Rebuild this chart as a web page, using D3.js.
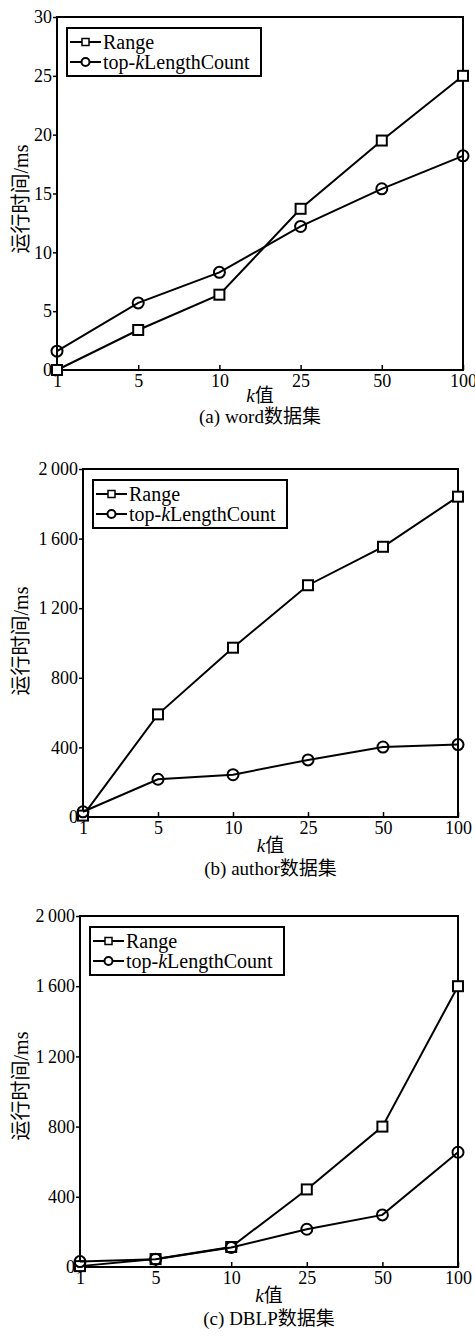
<!DOCTYPE html>
<html>
<head>
<meta charset="utf-8">
<script src="https://cdnjs.cloudflare.com/ajax/libs/d3/7.8.5/d3.min.js"></script>
<style>
  body { margin: 0; background: #fff; }
  svg { display: block; }
  text { font-family: "Liberation Serif", "Times New Roman", "Noto Sans CJK SC", serif; fill: #000; }
</style>
</head>
<body>
<div id="chart"></div>
<script>
// k values on the x axis
var kLabels = ["1", "5", "10", "25", "50", "100"];

// (a) word
var wordRange = [0, 3.4, 6.4, 13.7, 19.5, 25.0];
var wordTopk  = [1.6, 5.7, 8.3, 12.2, 15.4, 18.2];
var wordTicks = [0, 5, 10, 15, 20, 25, 30];

// (b) author
var authorRange = [8, 590, 973, 1332, 1553, 1841];
var authorTopk  = [30, 217, 243, 328, 402, 416];

// (c) DBLP
var dblpRange = [5, 45, 114, 442, 800, 1600];
var dblpTopk  = [31, 44, 111, 215, 297, 654];

var bigTicks = [0, 400, 800, 1200, 1600, 2000];
var seriesNames = ["Range", "top-"];
var yTitle = "运行时间/ms";

var width = 475, height = 1338;

var svg = d3.select("#chart").append("svg")
    .attr("width", width)
    .attr("height", height);

var fmtBig = function(d) {
  var s = String(d);
  return s.length > 3 ? s.slice(0, s.length - 3) + "\u2009" + s.slice(s.length - 3) : s;
};

var panels = [
  { range: wordRange, topk: wordTopk, ticks: wordTicks, max: 30, fmt: String,
    left: 57, right: 463, top: 17, bottom: 370, labY: 199, kY: 396, capY: 416,
    caption: "(a) word数据集" },
  { range: authorRange, topk: authorTopk, ticks: bigTicks, max: 2000, fmt: fmtBig,
    left: 83, right: 458, top: 469, bottom: 817, labY: 641, kY: 846, capY: 868,
    caption: "(b) author数据集" },
  { range: dblpRange, topk: dblpTopk, ticks: bigTicks, max: 2000, fmt: fmtBig,
    left: 80, right: 458, top: 916, bottom: 1267, labY: 1086, kY: 1296, capY: 1318,
    caption: "(c) DBLP数据集" }
];

panels.forEach(function(p) {
  var x = d3.scalePoint().domain(kLabels).range([p.left, p.right]);
  var y = d3.scaleLinear().domain([0, p.max]).range([p.bottom, p.top]);
  var g = svg.append("g");

  // y axis, outward ticks
  var yAxis = g.append("g")
      .attr("transform", "translate(" + p.left + ",0)")
      .call(d3.axisLeft(y).tickValues(p.ticks).tickFormat(p.fmt).tickSize(4).tickPadding(1));
  yAxis.select(".domain").remove();
  yAxis.selectAll("line").attr("stroke", "#000").attr("stroke-width", 1.5);
  yAxis.selectAll("text").attr("font-size", 18).attr("font-family", null);

  // x axis, inward ticks
  var xAxis = g.append("g")
      .attr("transform", "translate(0," + p.bottom + ")")
      .call(d3.axisBottom(x).tickSize(-5).tickPadding(3));
  xAxis.select(".domain").remove();
  xAxis.selectAll("line").attr("stroke", "#000").attr("stroke-width", 1.5);
  xAxis.selectAll("text").attr("font-size", 18).attr("font-family", null)
      .attr("dy", "0.75em");

  // frame
  g.append("rect")
      .attr("x", p.left).attr("y", p.top)
      .attr("width", p.right - p.left).attr("height", p.bottom - p.top)
      .attr("fill", "none").attr("stroke", "#000").attr("stroke-width", 2);

  var line = d3.line()
      .x(function(d, i) { return x(kLabels[i]); })
      .y(function(d) { return y(d); });

  [p.range, p.topk].forEach(function(vals, si) {
    g.append("path").datum(vals)
        .attr("d", line)
        .attr("fill", "none").attr("stroke", "#000").attr("stroke-width", 2);
    if (si == 0) {
      g.selectAll(".sq").data(vals).enter().append("rect")
          .attr("x", function(d, i) { return x(kLabels[i]) - 5; })
          .attr("y", function(d) { return y(d) - 5; })
          .attr("width", 10).attr("height", 10)
          .attr("fill", "#fff").attr("stroke", "#000").attr("stroke-width", 2);
    } else {
      g.selectAll(".ci").data(vals).enter().append("circle")
          .attr("cx", function(d, i) { return x(kLabels[i]); })
          .attr("cy", function(d) { return y(d); })
          .attr("r", 5.5)
          .attr("fill", "none").attr("stroke", "#000").attr("stroke-width", 2);
    }
  });

  // legend
  var lx = p.left + 10, ly = p.top + 11;
  var leg = g.append("g").attr("transform", "translate(" + lx + "," + ly + ")");
  leg.append("rect").attr("width", 194).attr("height", 48)
      .attr("fill", "#fff").attr("stroke", "#000").attr("stroke-width", 2);
  [0, 1].forEach(function(i) {
    var cy = 14 + i * 20;
    leg.append("line").attr("x1", 3).attr("x2", 34).attr("y1", cy).attr("y2", cy)
        .attr("stroke", "#000").attr("stroke-width", 2);
    if (i == 0) {
      leg.append("rect").attr("x", 15).attr("y", cy - 3.5).attr("width", 7).attr("height", 7)
          .attr("fill", "#fff").attr("stroke", "#000").attr("stroke-width", 1.5);
    } else {
      leg.append("circle").attr("cx", 18.5).attr("cy", cy).attr("r", 4)
          .attr("fill", "#fff").attr("stroke", "#000").attr("stroke-width", 2);
    }
    var t = leg.append("text").attr("x", 36).attr("y", cy + 6.5).attr("font-size", 20);
    if (i == 0) {
      t.text(seriesNames[0]);
    } else {
      t.append("tspan").text(seriesNames[1]);
      t.append("tspan").attr("font-style", "italic").text("k");
      t.append("tspan").text("LengthCount");
    }
  });

  // y title
  svg.append("text")
      .attr("transform", "translate(28," + p.labY + ") rotate(-90)")
      .attr("text-anchor", "middle")
      .attr("font-size", 20)
      .text(yTitle);

  // x title
  var kt = svg.append("text")
      .attr("x", (p.left + p.right) / 2).attr("y", p.kY + 6)
      .attr("text-anchor", "middle").attr("font-size", 19);
  kt.append("tspan").attr("font-style", "italic").text("k");
  kt.append("tspan").text("值");

  // caption
  svg.append("text")
      .attr("x", (p.left + p.right) / 2).attr("y", p.capY + 7)
      .attr("text-anchor", "middle").attr("font-size", 19)
      .text(p.caption);
});
</script>
</body>
</html>
